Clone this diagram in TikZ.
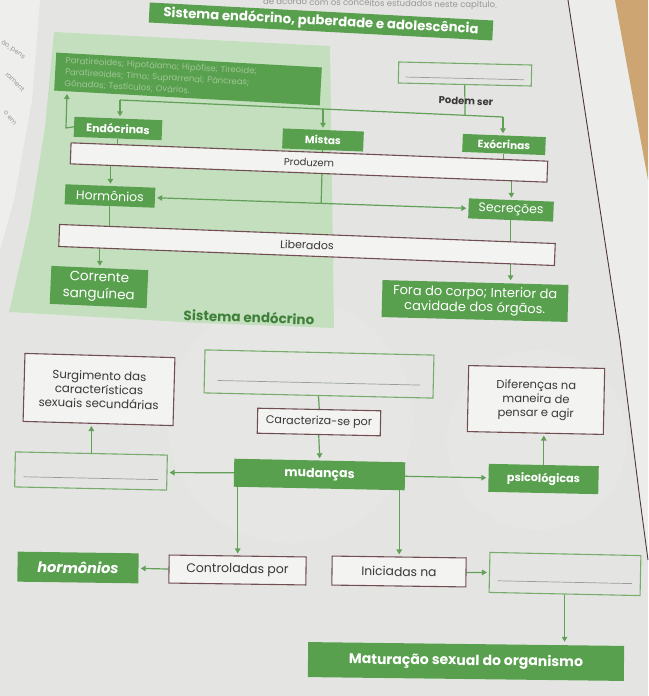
\documentclass[tikz,border=0pt]{standalone}
\usepackage{fontspec}
\setmainfont{Poppins}
\usetikzlibrary{arrows.meta,calc,backgrounds}

\definecolor{paper}{RGB}{228,229,226}
\definecolor{margin}{RGB}{236,237,235}
\definecolor{leftpage}{RGB}{238,238,236}
\definecolor{wood}{RGB}{205,165,115}
\definecolor{region}{RGB}{196,223,190}
\definecolor{boxgreen}{RGB}{88,160,78}
\definecolor{linkgreen}{RGB}{98,160,88}
\definecolor{blankgreen}{RGB}{120,172,108}
\definecolor{frame}{RGB}{112,78,82}
\definecolor{ink}{RGB}{58,56,56}
\definecolor{glandtext}{RGB}{160,198,150}
\definecolor{labelgreen}{RGB}{62,128,58}
\definecolor{headgray}{RGB}{150,152,150}
\definecolor{rulegray}{RGB}{150,158,150}
\definecolor{edge}{RGB}{75,55,58}

\tikzset{
  gbox/.style={fill=boxgreen, text=white, inner sep=0pt, align=center},
  wbox/.style={draw=frame, line width=1.1pt, fill=white!55!paper, text=ink, inner sep=0pt, align=center},
  blank/.style={draw=blankgreen, line width=1.1pt, inner sep=0pt},
  link/.style={draw=linkgreen, line width=1.2pt},
  arr/.style={-{Triangle[length=5pt,width=5.5pt]}, shorten >=2pt},
  tiltup/.style={rotate=-2.2},
  tiltlow/.style={rotate=-1.2}
}

\begin{document}
\begin{tikzpicture}[x=1pt,y=-1pt]
  \useasboundingbox (0,0) rectangle (648,696);
  \begin{scope}[on background layer]
    \fill[paper] (0,0) rectangle (648,696);
    \fill[leftpage] (0,0) -- (40,0) -- (32,100) -- (14,200) -- (0,250) -- cycle;
    \fill[white, opacity=0.1] (290,420) circle (123);
    \fill[white, opacity=0.1] (537,440) circle (90);
    \fill[margin] (568,0) -- (594,170) -- (620,340) -- (640,500) -- (648,560) -- (648,0) -- cycle;
    \fill[wood] (615,0) -- (648,0) -- (648,180) -- cycle;
    \draw[edge, line width=0.9pt] (568,0) -- (594,170) -- (620,340) -- (640,500) -- (648,560);
    \fill[region] (54,32) -- (330,46) -- (334,328) -- (200,323) -- (9,312) -- (30,220) -- (45,127) -- cycle;
  \end{scope}

  % facing page
  \node[text=headgray, font=\fontsize{6.5}{7}\selectfont, rotate=-35] (frag1) at (13,50) {ão, pens};
  \node[text=headgray, font=\fontsize{6.5}{7}\selectfont, rotate=-45] (frag2) at (15,82) {rament};
  \node[text=headgray, font=\fontsize{6.5}{7}\selectfont, rotate=-50] (frag3) at (10,118) {o em};

  % title
  \node[text=headgray, font=\fontsize{8.5}{9}\selectfont, rotate=-0.9] (head) at (380,4) {de acordo com os conceitos estudados neste capítulo.};
  \node[gbox, rotate=-3, minimum width=344pt, minimum height=20pt, font=\bfseries\fontsize{13.2}{14}\selectfont] (title) at (321,21.5) {Sistema endócrino, puberdade e adolescência};

  % sistema endocrino
  \node[gbox, rotate=-3.2, minimum width=266pt, minimum height=38pt, text width=246pt, align=left, text=glandtext, font=\fontsize{8.5}{11.5}\selectfont] (glands) at (188,79)
    {Paratireoides; Hipotálamo; Hipófise; Tireoide;\\Paratireoides; Timo; Suprarrenal; Pâncreas;\\Gônadas; Testículos; Ovários.};
  \node[blank, rotate=-1.3, minimum width=133pt, minimum height=21pt] (blankTop) at (465,74) {};
  \node[text=ink, font=\bfseries\fontsize{10}{11}\selectfont, rotate=-2] (podem) at (466,101) {Podem ser};
  \node[gbox, tiltup, minimum width=88pt, minimum height=20pt, font=\bfseries\fontsize{11}{12}\selectfont] (endo) at (118,128.5) {Endócrinas};
  \node[gbox, tiltup, minimum width=81pt, minimum height=20pt, font=\bfseries\fontsize{10.5}{12}\selectfont] (mistas) at (323,140) {Mistas};
  \node[gbox, tiltup, minimum width=83pt, minimum height=18pt, font=\bfseries\fontsize{10.5}{12}\selectfont] (exo) at (504,144.5) {Exócrinas};
  \node[wbox, tiltup, minimum width=477pt, minimum height=21pt, font=\fontsize{10}{12}\selectfont] (prod) at (309,162.5) {Produzem};
  \node[gbox, tiltup, minimum width=90pt, minimum height=20pt, font=\fontsize{12.5}{14}\selectfont] (horm) at (110,196) {Hormônios};
  \node[gbox, tiltup, minimum width=85pt, minimum height=20pt, font=\fontsize{12.5}{14}\selectfont] (secr) at (511,210) {Secreções};
  \node[wbox, tiltup, minimum width=496pt, minimum height=22pt, font=\fontsize{11}{12}\selectfont] (lib) at (307,245) {Liberados};
  \node[gbox, rotate=-2.5, minimum width=97pt, minimum height=38pt, font=\fontsize{13.5}{17}\selectfont] (corr) at (99,287) {Corrente\\sanguínea};
  \node[gbox, rotate=-1.5, minimum width=186pt, minimum height=37pt, font=\fontsize{13}{15}\selectfont] (fora) at (475,301) {Fora do corpo; Interior da\\cavidade dos órgãos.};
  \node[text=labelgreen, font=\bfseries\fontsize{13.5}{14}\selectfont, rotate=-2] (sislabel) at (249,317) {Sistema endócrino};

  % puberdade
  \node[wbox, rotate=-1.6, minimum width=150pt, minimum height=68pt, font=\fontsize{11.8}{14}\selectfont] (surg) at (99,389.5) {Surgimento das\\características\\sexuais secundárias};
  \node[blank, rotate=-1.3, minimum width=229pt, minimum height=43pt] (blankMid) at (319,374) {};
  \node[wbox, tiltlow, minimum width=123pt, minimum height=25pt, font=\fontsize{11.2}{12}\selectfont] (carac) at (319,422) {Caracteriza-se por};
  \node[wbox, tiltlow, minimum width=136pt, minimum height=66pt, font=\fontsize{11.5}{14}\selectfont] (dif) at (536,400) {Diferenças na\\maneira de\\pensar e agir};
  \node[blank, tiltlow, minimum width=152pt, minimum height=35pt] (blankLeft) at (91,471) {};
  \node[gbox, tiltlow, minimum width=171pt, minimum height=28pt, font=\bfseries\fontsize{12.5}{14}\selectfont] (mud) at (319.5,474.5) {mudanças};
  \node[gbox, tiltlow, minimum width=110pt, minimum height=28pt, font=\bfseries\fontsize{11.2}{14}\selectfont] (psic) at (543.5,479) {psicológicas};
  \node[wbox, rotate=-0.8, minimum width=137pt, minimum height=28pt, font=\fontsize{12.5}{14}\selectfont] (contr) at (237.5,570) {Controladas por};
  \node[gbox, rotate=-0.8, minimum width=121pt, minimum height=30pt, font=\bfseries\itshape\fontsize{14.5}{16}\selectfont] (hormo) at (78,567.5) {hormônios};
  \node[wbox, rotate=-0.8, minimum width=134pt, minimum height=29pt, font=\fontsize{12.3}{14}\selectfont] (inic) at (399,571.5) {Iniciadas na};
  \node[blank, tiltlow, minimum width=151pt, minimum height=40pt] (blankRight) at (565,574) {};
  \node[gbox, rotate=-0.7, minimum width=316pt, minimum height=35pt, font=\bfseries\fontsize{14}{16}\selectfont] (matur) at (466,661.5) {Maturação sexual do organismo};

  % empty lines to fill in
  \foreach \b in {blankTop,blankMid,blankLeft,blankRight}
    \draw[rulegray, line width=0.7pt] ($(\b.south west)!0.32!(\b.north west)!0.06!(\b.south east)$) -- ($(\b.south east)!0.32!(\b.north east)!0.06!(\b.south west)$);

  \begin{scope}[on background layer]
    \coordinate (jE) at (120,100);
    \coordinate (jM) at (323,109);
    \coordinate (jP) at (465,115.3);
    \coordinate (jX) at (503,117);
    \coordinate (eL) at (66,128);
    \coordinate (gB) at (67,92);
    \draw[link] (blankTop.south) -- (jP);
    \draw[link] (jE) -- (jX);
    \draw[link, arr] (jE) -- (jE |- endo.north);
    \draw[link, arr] (jM) -- (jM |- mistas.north);
    \draw[link, arr] (jX) -- (jX |- exo.north);
    \draw[link, arr] (endo.west) -- (eL) -- (gB);
    \draw[link] (endo.south) -- (endo.south |- prod.center);
    \draw[link] (exo.south) -- (exo.south |- prod.center);
    \draw[link] (mistas.south) -- ($(horm.east)!0.53!(secr.west)$);
    \draw[link, arr] (prod.center -| horm.north) -- (horm.north);
    \draw[link, arr] (prod.center -| secr.north) -- (secr.north);
    \draw[link, {Triangle[length=5pt,width=5.5pt]}-{Triangle[length=5pt,width=5.5pt]}, shorten <=2pt, shorten >=2pt] (horm.east) -- (secr.west);
    \draw[link] (horm.south) -- (horm.south |- lib.center);
    \draw[link] (secr.south) -- (secr.south |- lib.center);
    \draw[link, arr] (lib.center -| corr.north) -- (corr.north);
    \draw[link, arr] (lib.center -| secr.south) -- (secr.south |- fora.north);

    \draw[link] (blankMid.south) -- (carac.north);
    \draw[link, arr] (carac.south) -- (mud.north);
    \draw[link, arr] (blankLeft.north) -- (blankLeft.north |- surg.south);
    \draw[link, arr] (mud.west) -- (blankLeft.east);
    \draw[link, arr] (mud.east) -- (psic.west);
    \draw[link, arr] (psic.north) -- (psic.north |- dif.south);
    \draw[link, arr] (contr.north |- mud.center) -- (contr.north);
    \draw[link, arr] (inic.north |- mud.center) -- (inic.north);
    \draw[link, arr] (contr.west) -- (hormo.east);
    \draw[link, arr] (inic.east) -- (blankRight.west);
    \draw[link, arr] (blankRight.south) -- (blankRight.south |- matur.north);
  \end{scope}
\end{tikzpicture}
\end{document}
